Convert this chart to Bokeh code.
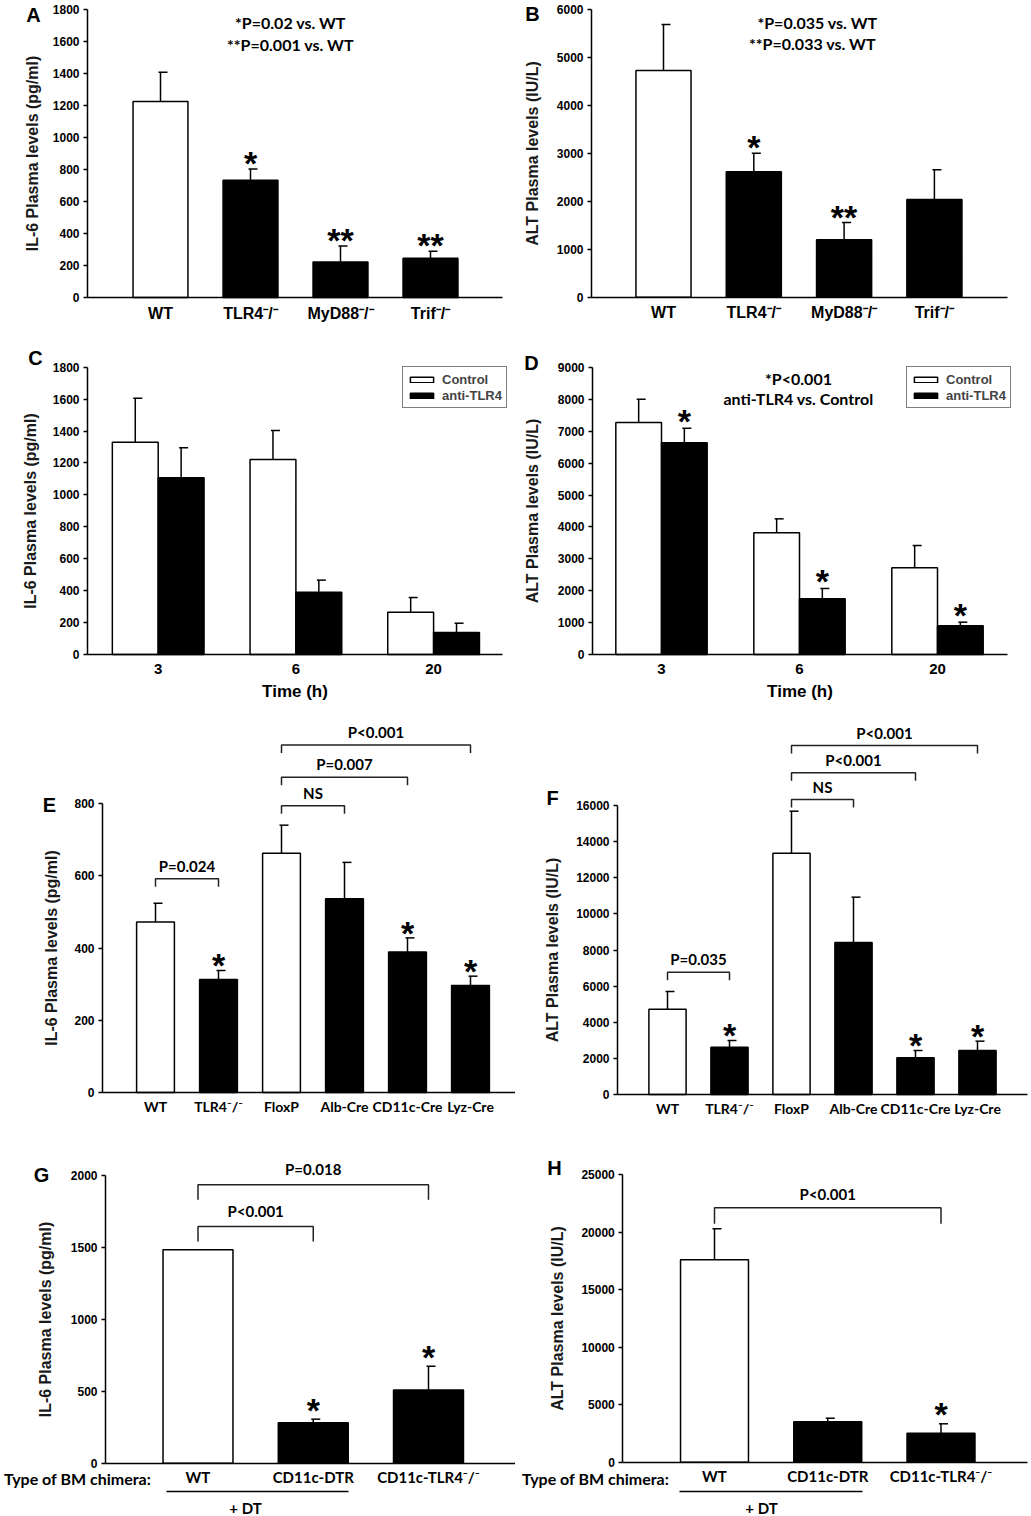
from bokeh.plotting import figure
from bokeh.models import ColumnDataSource, Label, Legend, LegendItem, FixedTicker, Range1d
from bokeh.layouts import row, column
from bokeh.embed import file_html
from bokeh.resources import INLINE
from bokeh.core.properties import value

ARIAL = "Liberation Sans"
CAL = "Lato"
INK = "black"
SUP = "\u207b/\u207b"

# ---------------- data ----------------
A_labels = ["WT", "TLR4" + SUP, "MyD88" + SUP, "Trif" + SUP]
A_mean = [1225, 733, 222, 245]
A_upper = [1408, 803, 322, 289]
A_fill = ["white", "black", "black", "black"]
A_sig = ["", "*", "**", "**"]
A_ticks = [0, 200, 400, 600, 800, 1000, 1200, 1400, 1600, 1800]

B_labels = ["WT", "TLR4" + SUP, "MyD88" + SUP, "Trif" + SUP]
B_mean = [4733, 2618, 1198, 2039]
B_upper = [5693, 3006, 1559, 2659]
B_fill = ["white", "black", "black", "black"]
B_sig = ["", "*", "**", ""]
B_ticks = [0, 1000, 2000, 3000, 4000, 5000, 6000]

C_times = ["3", "6", "20"]
C_control = [1330, 1222, 265]
C_control_upper = [1606, 1403, 357]
C_anti = [1107, 390, 138]
C_anti_upper = [1295, 466, 196]
C_anti_sig = ["", "", ""]
C_ticks = [0, 200, 400, 600, 800, 1000, 1200, 1400, 1600, 1800]

D_times = ["3", "6", "20"]
D_control = [7275, 3816, 2718]
D_control_upper = [8006, 4254, 3418]
D_anti = [6638, 1746, 899]
D_anti_upper = [7097, 2070, 1013]
D_anti_sig = ["*", "*", "*"]
D_ticks = [0, 1000, 2000, 3000, 4000, 5000, 6000, 7000, 8000, 9000]

E_labels = ["WT", "TLR4" + SUP, "FloxP", "Alb-Cre", "CD11c-Cre", "Lyz-Cre"]
E_mean = [472, 313, 662, 536, 389, 296]
E_upper = [524, 338, 740, 637, 428, 322]
E_fill = ["white", "black", "white", "black", "black", "black"]
E_sig = ["", "*", "", "", "*", "*"]
E_ticks = [0, 200, 400, 600, 800]
E_pairs = [(0, 1, "P=0.024"), (2, 3, "NS"), (2, 4, "P=0.007"), (2, 5, "P<0.001")]
E_pair_levels = [592, 794, 873, 962]

F_labels = ["WT", "TLR4" + SUP, "FloxP", "Alb-Cre", "CD11c-Cre", "Lyz-Cre"]
F_mean = [4724, 2620, 13360, 8415, 2030, 2436]
F_upper = [5702, 2990, 15686, 10925, 2436, 2953]
F_fill = ["white", "black", "white", "black", "black", "black"]
F_sig = ["", "*", "", "", "*", "*"]
F_ticks = [0, 2000, 4000, 6000, 8000, 10000, 12000, 14000, 16000]
F_pairs = [(0, 1, "P=0.035"), (2, 3, "NS"), (2, 4, "P<0.001"), (2, 5, "P<0.001")]
F_pair_levels = [6771, 16332, 17810, 19321]

G_labels = ["WT", "CD11c-DTR", "CD11c-TLR4" + SUP]
G_mean = [1484, 281, 508]
G_upper = [1484, 306, 674]
G_fill = ["white", "black", "black"]
G_sig = ["", "*", "*"]
G_ticks = [0, 500, 1000, 1500, 2000]
G_pairs = [(0, 1, "P<0.001"), (0, 2, "P=0.018")]
G_pair_levels = [1645, 1935]

H_labels = ["WT", "CD11c-DTR", "CD11c-TLR4" + SUP]
H_mean = [17588, 3510, 2520]
H_upper = [20281, 3823, 3337]
H_fill = ["white", "black", "black"]
H_sig = ["", "", "*"]
H_ticks = [0, 5000, 10000, 15000, 20000, 25000]
H_pairs = [(0, 2, "P<0.001")]
H_pair_levels = [22106]


# ---------------- geometry helpers (page pixels -> data) ----------------
class Geo:
    def __init__(self, ox, oy, W, H, axL, axR, y0, yt, vt, c0, s):
        self.ox, self.oy, self.W, self.H = ox, oy, W, H
        self.axL, self.axR = axL, axR
        self.y0, self.c0, self.s = y0, c0, s
        self.vt = vt
        self.k = (y0 - yt) / vt

    def dx(self, px):
        return (px - self.c0) / self.s

    def dy(self, py):
        return (self.y0 - py) / self.k

    def d(self, px, py):
        return self.dx(px), self.dy(py)

    @property
    def xr(self):
        return (self.dx(self.ox), self.dx(self.ox + self.W))

    @property
    def yr(self):
        return (self.dy(self.oy + self.H), self.dy(self.oy))


def make_fig(g, yticks, ylabel, ylabel_standoff, xlabels, xfont, xsize, xstandoff,
             xaxis_label=None, xaxis_label_standoff=3):
    p = figure(width=g.W, height=g.H, x_range=Range1d(*g.xr), y_range=Range1d(*g.yr),
               output_backend="svg", toolbar_location=None,
               min_border_left=0, min_border_right=0,
               min_border_top=0, min_border_bottom=0)
    p.outline_line_color = None
    p.xgrid.grid_line_color = None
    p.ygrid.grid_line_color = None
    p.background_fill_color = "white"
    p.border_fill_color = "white"

    ya = p.yaxis[0]
    ya.fixed_location = g.dx(g.axL)
    ya.ticker = FixedTicker(ticks=yticks)
    ya.bounds = (0, g.vt)
    ya.axis_label = ylabel
    ya.axis_label_text_font = ARIAL
    ya.axis_label_text_font_style = "bold"
    ya.axis_label_text_font_size = "16px"
    ya.axis_label_text_color = "#1a1a1a"
    ya.axis_label_standoff = ylabel_standoff
    ya.major_label_text_font = ARIAL
    ya.major_label_text_font_style = "bold"
    ya.major_label_text_font_size = "12px"
    ya.major_label_text_color = INK
    ya.major_label_standoff = 4
    ya.major_tick_out = 4
    ya.major_tick_in = 0
    ya.minor_tick_out = 0
    ya.minor_tick_in = 0
    ya.axis_line_width = 1.5
    ya.major_tick_line_width = 1.5

    xa = p.xaxis[0]
    xa.fixed_location = 0
    xa.bounds = (g.dx(g.axL), g.dx(g.axR))
    xa.ticker = FixedTicker(ticks=list(range(len(xlabels))))
    xa.major_label_overrides = {i: lab for i, lab in enumerate(xlabels)}
    xa.major_label_text_font = xfont
    xa.major_label_text_font_style = "bold"
    xa.major_label_text_font_size = xsize
    xa.major_label_text_color = INK
    xa.major_label_standoff = xstandoff
    xa.major_tick_out = 0
    xa.major_tick_in = 0
    xa.minor_tick_out = 0
    xa.minor_tick_in = 0
    xa.axis_line_width = 1.5
    if xaxis_label:
        xa.axis_label = xaxis_label
        xa.axis_label_text_font = ARIAL
        xa.axis_label_text_font_style = "bold"
        xa.axis_label_text_font_size = "17px"
        xa.axis_label_text_color = INK
        xa.axis_label_standoff = xaxis_label_standoff
    return p


def bars(p, g, xs, mean, upper, fills, width, sig, star_gap=12, star_size="34px"):
    r = p.vbar(x=xs, top=mean, width=width, bottom=0, fill_color=fills,
               line_color=INK, line_width=1.5)
    ex, et, eu = [], [], []
    for x, t, u in zip(xs, mean, upper):
        if u > t:
            ex.append(x); et.append(t); eu.append(u)
    if ex:
        capl = 2.0 / g.s
        capr = 7.0 / g.s
        p.segment(x0=ex, y0=et, x1=ex, y1=eu, line_color=INK, line_width=1.5)
        p.segment(x0=[x - capl for x in ex], y0=eu, x1=[x + capr for x in ex], y1=eu,
                  line_color=INK, line_width=1.5)
    src = ColumnDataSource(dict(x=list(xs), y=list(upper), t=list(sig)))
    p.text(x="x", y="y", text="t", source=src, text_font=value(ARIAL),
           text_font_style="bold", text_font_size=star_size, text_align="center",
           text_baseline="alphabetic", y_offset=6 - star_gap, text_color=INK)
    return r


def brackets(p, g, pairs, levels, leg_px, label_gap, size="15px"):
    xs, ys, tx, ty, tt = [], [], [], [], []
    leg = leg_px / g.k
    for (a, b, lab), lev in zip(pairs, levels):
        xs.append([a, a, b, b])
        ys.append([lev - leg, lev, lev, lev - leg])
        tx.append((a + b) / 2.0)
        ty.append(lev)
        tt.append(lab)
    p.multi_line(xs=xs, ys=ys, line_color="#222222", line_width=1.5)
    src = ColumnDataSource(dict(x=tx, y=ty, t=tt))
    p.text(x="x", y="y", text="t", source=src, text_font=value(CAL),
           text_font_style="bold", text_font_size=size, text_align="center",
           text_baseline="alphabetic", y_offset=-label_gap, text_color=INK)


def note(p, g, text, px, py, size="16px", font=CAL, align="center"):
    x, y = g.d(px, py)
    p.add_layout(Label(x=x, y=y, text=text, text_font=font, text_font_style="bold",
                       text_font_size=size, text_align=align,
                       text_baseline="middle", text_color=INK))


def letter(p, g, text, px, py):
    note(p, g, text, px, py, size="20px", font=ARIAL)


def legend(p, g, rc, ra, box_left, box_bottom):
    lg = Legend(items=[LegendItem(label="Control", renderers=[rc]),
                       LegendItem(label="anti-TLR4", renderers=[ra])],
                location=(box_left - g.ox, g.oy + g.H - box_bottom))
    lg.margin = 0
    lg.padding = 4
    lg.spacing = 0
    lg.glyph_width = 29
    lg.glyph_height = 7
    lg.label_standoff = 6
    lg.label_height = 16
    lg.label_text_font = ARIAL
    lg.label_text_font_style = "bold"
    lg.label_text_font_size = "13px"
    lg.border_line_color = INK
    lg.border_line_width = 1.5
    lg.background_fill_color = "white"
    lg.background_fill_alpha = 1.0
    p.add_layout(lg)


# ---------------- panels ----------------
# A
gA = Geo(0, 0, 515, 338, 87, 502, 297, 9, 1800, 160, 90)
pA = make_fig(gA, A_ticks, "IL-6 Plasma levels (pg/ml)", 9, A_labels, ARIAL, "16px", 7)
bars(pA, gA, list(range(4)), A_mean, A_upper, A_fill, 0.61, A_sig, 12)
note(pA, gA, "*P=0.02 vs. WT", 290, 22)
note(pA, gA, "**P=0.001 vs. WT", 290, 44)
letter(pA, gA, "A", 33, 14)

# B
gB = Geo(515, 0, 516, 338, 591, 1007, 296.7, 9.3, 6000, 663, 90.3)
pB = make_fig(gB, B_ticks, "ALT Plasma levels (IU/L)", 13, B_labels, ARIAL, "16px", 7)
bars(pB, gB, list(range(4)), B_mean, B_upper, B_fill, 0.61, B_sig, 12)
note(pB, gB, "*P=0.035 vs. WT", 817, 22)
note(pB, gB, "**P=0.033 vs. WT", 812, 43)
letter(pB, gB, "B", 532, 13)

# C
gC = Geo(0, 338, 515, 377, 87, 502, 654, 366.7, 1800, 157.7, 137.7)
pC = make_fig(gC, C_ticks, "IL-6 Plasma levels (pg/ml)", 11, C_times, ARIAL, "15px", 9,
              "Time (h)", 5)
w = 0.333
rc = bars(pC, gC, [i - w / 2 for i in range(3)], C_control, C_control_upper,
          ["white"] * 3, w, [""] * 3)
ra = bars(pC, gC, [i + w / 2 for i in range(3)], C_anti, C_anti_upper,
          ["black"] * 3, w, C_anti_sig)
legend(pC, gC, rc, ra, 402, 408)
letter(pC, gC, "C", 35, 357)

# D
gD = Geo(515, 338, 516, 377, 592, 1007, 654, 367, 9000, 661, 138)
pD = make_fig(gD, D_ticks, "ALT Plasma levels (IU/L)", 14, D_times, ARIAL, "15px", 9,
              "Time (h)", 5)
w = 0.331
rc = bars(pD, gD, [i - w / 2 for i in range(3)], D_control, D_control_upper,
          ["white"] * 3, w, [""] * 3)
ra = bars(pD, gD, [i + w / 2 for i in range(3)], D_anti, D_anti_upper,
          ["black"] * 3, w, D_anti_sig, 13)
legend(pD, gD, rc, ra, 906, 408)
note(pD, gD, "*P<0.001", 798, 378)
note(pD, gD, "anti-TLR4 vs. Control", 798, 398)
letter(pD, gD, "D", 531, 362)

# E
gE = Geo(0, 715, 515, 428, 102, 515, 1092, 803, 800, 155, 63)
pE = make_fig(gE, E_ticks, "IL-6 Plasma levels (pg/ml)", 11, E_labels, CAL, "14px", 5)
bars(pE, gE, list(range(6)), E_mean, E_upper, E_fill, 0.6, E_sig, 11)
brackets(pE, gE, E_pairs, E_pair_levels, 8, 13)
letter(pE, gE, "E", 49, 804)

# F
gF = Geo(515, 715, 516, 428, 617, 1027, 1094, 805, 16000, 667, 62)
pF = make_fig(gF, F_ticks, "ALT Plasma levels (IU/L)", 12, F_labels, CAL, "14px", 5)
bars(pF, gF, list(range(6)), F_mean, F_upper, F_fill, 0.6, F_sig, 11)
brackets(pF, gF, F_pairs, F_pair_levels, 8, 13)
letter(pF, gF, "F", 552, 797)

# G
gG = Geo(0, 1143, 515, 373, 105, 515, 1462.7, 1175, 2000, 197.5, 115.25)
pG = make_fig(gG, G_ticks, "IL-6 Plasma levels (pg/ml)", 14, G_labels, CAL, "15px", 5)
bars(pG, gG, list(range(3)), G_mean, G_upper, G_fill, 0.607, G_sig, 15)
brackets(pG, gG, G_pairs, G_pair_levels, 15, 16)
letter(pG, gG, "G", 41, 1174)

# H
gH = Geo(515, 1143, 516, 373, 622.3, 1026.7, 1461.7, 1174, 25000, 714, 113.25)
pH = make_fig(gH, H_ticks, "ALT Plasma levels (IU/L)", 12, H_labels, CAL, "15px", 5)
bars(pH, gH, list(range(3)), H_mean, H_upper, H_fill, 0.6, H_sig, 16)
brackets(pH, gH, H_pairs, H_pair_levels, 16, 14)
letter(pH, gH, "H", 554, 1167)

# chimera captions under G and H
for p, g, cx, ux0, ux1, dx in [(pG, gG, 77, 166, 348, 245), (pH, gH, 595, 679, 862, 761)]:
    note(p, g, "Type of BM chimera:", cx, 1478, size="16px")
    x0, y0 = g.d(ux0, 1491)
    x1, _ = g.d(ux1, 1491)
    p.segment(x0=[x0], y0=[y0], x1=[x1], y1=[y0], line_color=INK, line_width=1.5)
    note(p, g, "+ DT", dx, 1507, size="15px")

layout = column(row(pA, pB), row(pC, pD), row(pE, pF), row(pG, pH))
open("out.html", "w").write(file_html(layout, INLINE, "TLR4 panels"))
